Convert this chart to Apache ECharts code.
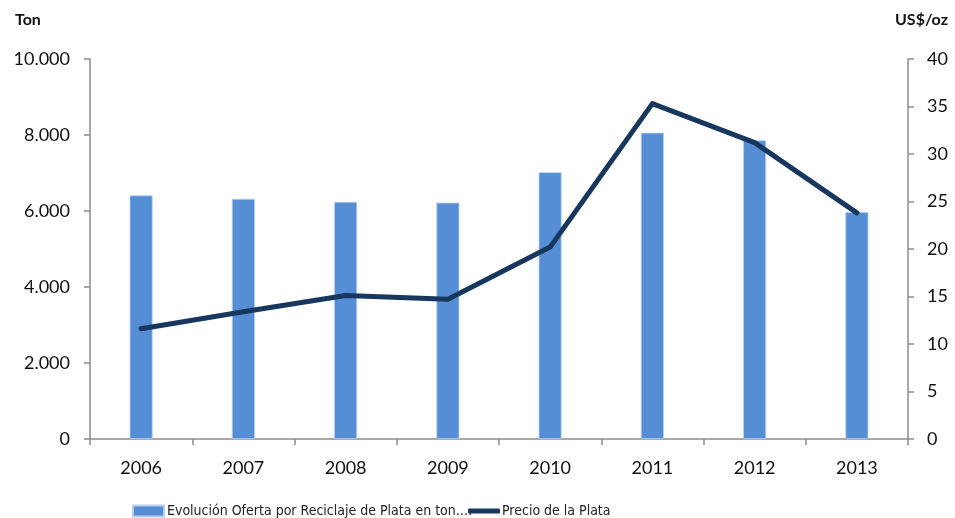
<!DOCTYPE html>
<html>
<head>
<meta charset="utf-8">
<script src="https://cdn.jsdelivr.net/npm/echarts@6/dist/echarts.min.js"></script>
<style>
  html, body { margin: 0; padding: 0; background: #fff; }
  #main { width: 955px; height: 518px; }
</style>
</head>
<body>
<div id="main"></div>
<script>
// datos
var years = ['2006', '2007', '2008', '2009', '2010', '2011', '2012', '2013'];
var reciclaje = [6410, 6320, 6240, 6220, 7020, 8060, 7860, 5970];
var precio = [11.6, 13.4, 15.1, 14.7, 20.2, 35.3, 31.2, 23.8];
var nombreBarras = 'Evolución Oferta por Reciclaje de Plata en ton.…';
var nombreLinea = 'Precio de la Plata';

var FONT = 'Lato, "Open Sans", sans-serif';
var NARROW = '"Liberation Sans Narrow", "DejaVu Sans Condensed", Lato, sans-serif';
var axisGray = '#8c8c8c';

var myChart = echarts.init(document.getElementById('main'));

function miles(v) {
  return String(v).replace(/\B(?=(\d{3})+(?!\d))/g, '.');
}

var option = {
  animation: false,
  textStyle: { fontFamily: FONT },
  grid: { left: 90, right: 47, top: 59, bottom: 79, containLabel: false, outerBoundsMode: 'none' },
  legend: [{
    left: 127, top: 499,
    itemWidth: 31, itemHeight: 11, itemGap: 3,
    textStyle: { fontSize: 14, color: '#222', fontFamily: NARROW, padding: [0, 0, 0, -2] },
    data: [{ name: nombreBarras, icon: 'rect' }]
  }, {
    left: 463, top: 499,
    itemWidth: 32, itemHeight: 5,
    textStyle: { fontSize: 14, color: '#222', fontFamily: NARROW, padding: [0, 0, 0, -3] },
    data: [{ name: nombreLinea, icon: 'roundRect' }]
  }],
  xAxis: {
    type: 'category',
    data: years,
    axisLine: { lineStyle: { color: axisGray, width: 1.5 } },
    axisTick: { show: true, length: 6, lineStyle: { color: axisGray, width: 1.5 } },
    axisLabel: { fontSize: 18, color: '#111', margin: 20, fontFamily: FONT }
  },
  yAxis: [{
    type: 'value',
    min: 0, max: 10000, interval: 2000,
    name: 'Ton',
    nameLocation: 'end',
    nameGap: 0,
    nameTextStyle: { fontWeight: 'bold', fontSize: 16, color: '#111', align: 'left', padding: [0, 0, 31, -75] },
    axisLine: { show: true, lineStyle: { color: axisGray, width: 1.5 } },
    axisTick: { show: true, length: 6, lineStyle: { color: axisGray, width: 1.5 } },
    axisLabel: { fontSize: 18, color: '#111', margin: 20, formatter: miles, fontFamily: FONT },
    splitLine: { show: false }
  }, {
    type: 'value',
    min: 0, max: 40, interval: 5,
    name: 'US$/oz',
    nameLocation: 'end',
    nameGap: 0,
    nameTextStyle: { fontWeight: 'bold', fontSize: 16, color: '#111', align: 'right', padding: [0, -40, 31, 0] },
    axisLine: { show: true, lineStyle: { color: axisGray, width: 1.5 } },
    axisTick: { show: true, length: 6, lineStyle: { color: axisGray, width: 1.5 } },
    axisLabel: { fontSize: 18, color: '#111', margin: 19, fontFamily: FONT },
    splitLine: { show: false }
  }],
  series: [{
    name: nombreBarras,
    type: 'bar',
    data: reciclaje,
    barWidth: 23,
    itemStyle: { color: '#558ED5', borderColor: '#b8cfee', borderWidth: 0.8 }
  }, {
    name: nombreLinea,
    type: 'line',
    yAxisIndex: 1,
    data: precio,
    symbol: 'none',
    lineStyle: { color: '#17375E', width: 5, cap: 'round', join: 'round' },
    itemStyle: { color: '#17375E' }
  }]
};

myChart.setOption(option);
</script>
</body>
</html>
